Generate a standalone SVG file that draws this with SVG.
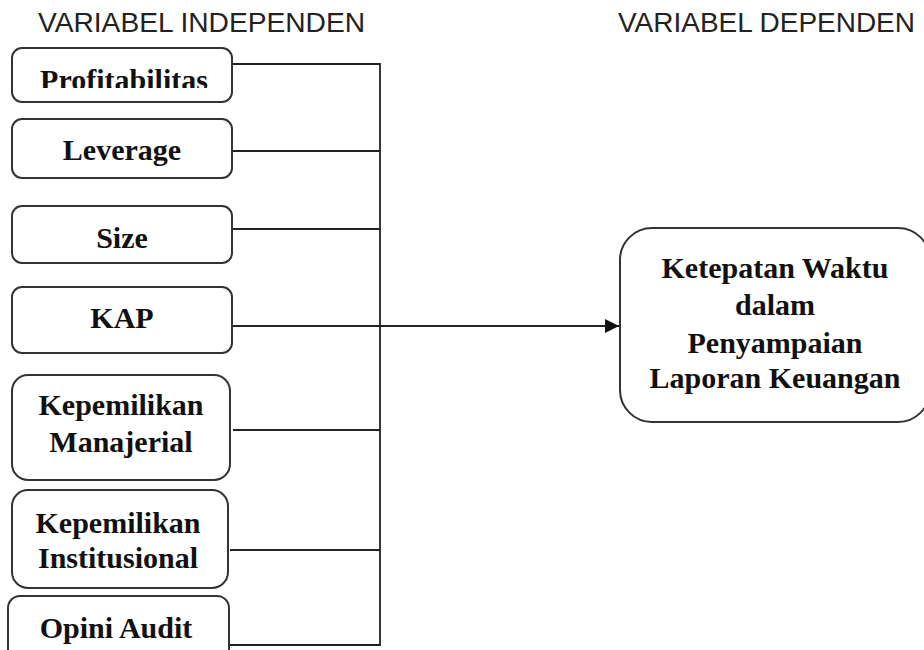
<svg xmlns="http://www.w3.org/2000/svg" width="924" height="650" viewBox="0 0 924 650">
<style>
.hdr{font-family:"Liberation Sans",Arial,sans-serif;font-size:27px;fill:#222}
.box{fill:#fff;stroke:#333;stroke-width:2}
.lbl{font-family:"Liberation Serif","Times New Roman",serif;font-weight:bold;font-size:30px;fill:#111;text-anchor:middle}
.ln{stroke:#222;stroke-width:1.8;fill:none}
</style>
<defs>
<marker id="ah" viewBox="0 0 10 10" refX="10" refY="5" markerWidth="14" markerHeight="14" markerUnits="userSpaceOnUse" orient="auto">
<path d="M0,0 L10,5 L0,10 z" fill="#111"/>
</marker>
<clipPath id="cp1"><rect x="0" y="0" width="300" height="88"/></clipPath>
</defs>
<rect width="924" height="650" fill="#fff"/>
<text class="hdr" x="38" y="32" textLength="327" lengthAdjust="spacingAndGlyphs">VARIABEL INDEPENDEN</text>
<text class="hdr" x="618" y="32" textLength="297" lengthAdjust="spacingAndGlyphs">VARIABEL DEPENDEN</text>

<g id="connectors">
<line class="ln" x1="233" y1="64" x2="380" y2="64"/>
<line class="ln" x1="233" y1="151" x2="380" y2="151"/>
<line class="ln" x1="233" y1="229" x2="380" y2="229"/>
<line class="ln" x1="233" y1="430" x2="380" y2="430"/>
<line class="ln" x1="230" y1="550" x2="380" y2="550"/>
<line class="ln" x1="230" y1="645" x2="380" y2="645"/>
<line class="ln" x1="380" y1="63" x2="380" y2="646"/>
<line class="ln" x1="233" y1="326" x2="619" y2="326" marker-end="url(#ah)"/>
</g>

<g id="n-profitabilitas">
<rect class="box" x="12" y="48" width="220" height="54" rx="10"/>
<text class="lbl" x="124" y="90" clip-path="url(#cp1)">Profitabilitas</text>
</g>
<g id="n-leverage">
<rect class="box" x="12" y="119" width="220" height="59" rx="10"/>
<text class="lbl" x="122" y="160">Leverage</text>
</g>
<g id="n-size">
<rect class="box" x="12" y="206" width="220" height="57" rx="10"/>
<text class="lbl" x="122" y="248">Size</text>
</g>
<g id="n-kap">
<rect class="box" x="12" y="287" width="220" height="66" rx="10"/>
<text class="lbl" x="122" y="328">KAP</text>
</g>
<g id="n-manajerial">
<rect class="box" x="12" y="375" width="218" height="105" rx="16"/>
<text class="lbl" x="121" y="415">Kepemilikan</text>
<text class="lbl" x="121" y="452">Manajerial</text>
</g>
<g id="n-institusional">
<rect class="box" x="12" y="490" width="216" height="98" rx="16"/>
<text class="lbl" x="118" y="533">Kepemilikan</text>
<text class="lbl" x="118" y="568">Institusional</text>
</g>
<g id="n-opini">
<rect class="box" x="8" y="596" width="221" height="80" rx="12"/>
<text class="lbl" x="116" y="638">Opini Audit</text>
</g>
<g id="n-ketepatan">
<rect class="box" x="620" y="228" width="310" height="194" rx="32"/>
<text class="lbl" x="775" y="278">Ketepatan Waktu</text>
<text class="lbl" x="775" y="315">dalam</text>
<text class="lbl" x="775" y="353">Penyampaian</text>
<text class="lbl" x="775" y="388">Laporan Keuangan</text>
</g>
</svg>
